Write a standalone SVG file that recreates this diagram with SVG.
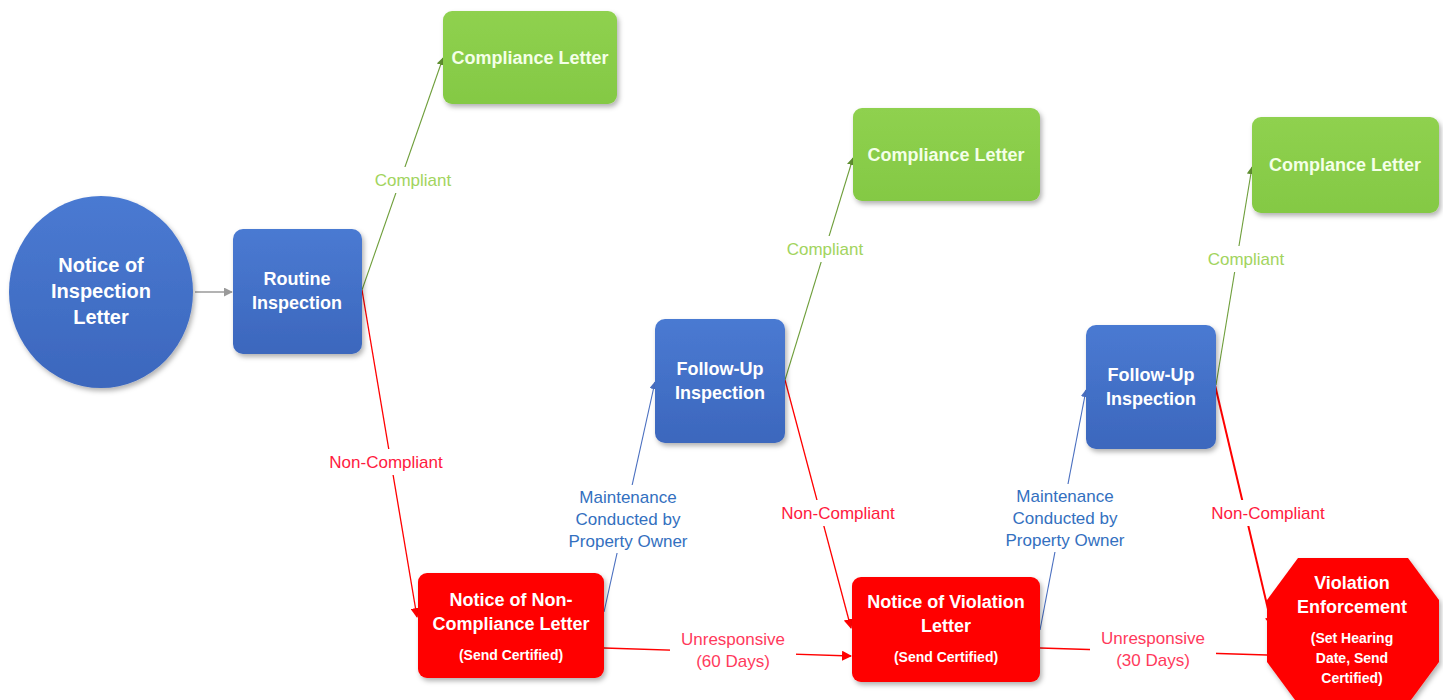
<svg xmlns="http://www.w3.org/2000/svg" width="1443" height="700" viewBox="0 0 1443 700">
<style>
.node-blue{fill:url(#gBlue);filter:url(#sh)}
.node-green{fill:url(#gGreen);filter:url(#sh)}
.node-red{fill:#ff0000;filter:url(#sh)}
.nt{font-family:"Liberation Sans",Arial,sans-serif;font-weight:bold;fill:#ffffff;text-anchor:middle}
.big{font-size:18px}
.circ{font-size:20px}
.small{font-size:14px}
.gt{fill:#f4ffe8}
.lbl{font-family:"Liberation Sans",Arial,sans-serif;font-size:17px;text-anchor:middle}
.lg{fill:#a2d45e}
.lr{fill:#ff1a40}
.lb{fill:#3370c0}
.lp{fill:#ff3a5c}
.c{fill:none}
.cg{stroke:#6e9e3a;stroke-width:1.1}
.cr{stroke:#ff0000;stroke-width:1.3}
.cb{stroke:#4a6fc0;stroke-width:1.1}
.cgr{stroke:#9a9a9a;stroke-width:1.3}
.bg{fill:#ffffff}
</style>
<defs>
<linearGradient id="gBlue" x1="0" y1="0" x2="0" y2="1">
<stop offset="0" stop-color="#4a7ad2"/>
<stop offset="1" stop-color="#3c67bd"/>
</linearGradient>
<linearGradient id="gGreen" x1="0" y1="0" x2="0" y2="1">
<stop offset="0" stop-color="#8fd14f"/>
<stop offset="1" stop-color="#84c944"/>
</linearGradient>
<filter id="sh" x="-20%" y="-20%" width="140%" height="140%">
<feDropShadow dx="2" dy="3" stdDeviation="2.5" flood-color="#000" flood-opacity="0.3"/>
</filter>
<marker id="aG" viewBox="0 0 10 10" refX="9" refY="5" markerWidth="8" markerHeight="8" markerUnits="userSpaceOnUse" orient="auto"><path d="M0,0 L10,5 L0,10 z" fill="#5f8f30"/></marker>
<marker id="aR" viewBox="0 0 10 10" refX="9" refY="5" markerWidth="10" markerHeight="10" markerUnits="userSpaceOnUse" orient="auto"><path d="M0,0 L10,5 L0,10 z" fill="#ff0000"/></marker>
<marker id="aB" viewBox="0 0 10 10" refX="9" refY="5" markerWidth="8" markerHeight="8" markerUnits="userSpaceOnUse" orient="auto"><path d="M0,0 L10,5 L0,10 z" fill="#4a6fc0"/></marker>
<marker id="aGr" viewBox="0 0 10 10" refX="9" refY="5" markerWidth="9" markerHeight="9" markerUnits="userSpaceOnUse" orient="auto"><path d="M0,0 L10,5 L0,10 z" fill="#9a9a9a"/></marker>
</defs>
<rect width="1443" height="700" fill="#ffffff"/>

<g id="connectors">
<line class="c cgr" x1="195" y1="292" x2="232" y2="292" marker-end="url(#aGr)"/>
<line class="c cg" x1="362" y1="290" x2="443" y2="58" marker-end="url(#aG)"/>
<line class="c cr" x1="362" y1="290" x2="417" y2="617" marker-end="url(#aR)"/>
<line class="c cb" x1="604" y1="612" x2="655" y2="382" marker-end="url(#aB)"/>
<line class="c cg" x1="785" y1="380" x2="853" y2="158" marker-end="url(#aG)"/>
<line class="c cr" x1="785" y1="380" x2="851" y2="628" marker-end="url(#aR)"/>
<line class="c cr" x1="604" y1="648" x2="851" y2="656" marker-end="url(#aR)"/>
<line class="c cb" x1="1040" y1="630" x2="1086" y2="390" marker-end="url(#aB)"/>
<line class="c cg" x1="1216" y1="385" x2="1252" y2="167" marker-end="url(#aG)"/>
<line class="c cr" style="stroke-width:2" x1="1215" y1="385" x2="1272" y2="626" marker-end="url(#aR)"/>
<line class="c cr" x1="1040" y1="648" x2="1267" y2="655"/>
<g id="labels">
<rect class="bg" x="368" y="167" width="90" height="26"/>
<text class="lbl lg" x="413" y="186">Compliant</text>
<rect class="bg" x="322" y="449" width="128" height="26"/>
<text class="lbl lr" x="386" y="468">Non-Compliant</text>
<rect class="bg" x="562" y="485" width="134" height="68"/>
<text class="lbl lb" x="628" y="503">Maintenance</text>
<text class="lbl lb" x="628" y="525">Conducted by</text>
<text class="lbl lb" x="628" y="547">Property Owner</text>
<rect class="bg" x="780" y="236" width="90" height="26"/>
<text class="lbl lg" x="825" y="255">Compliant</text>
<rect class="bg" x="774" y="500" width="128" height="26"/>
<text class="lbl lr" x="838" y="519">Non-Compliant</text>
<rect class="bg" x="670" y="627" width="126" height="48"/>
<text class="lbl lp" x="733" y="645">Unresponsive</text>
<text class="lbl lp" x="733" y="667">(60 Days)</text>
<rect class="bg" x="998" y="484" width="134" height="68"/>
<text class="lbl lb" x="1065" y="502">Maintenance</text>
<text class="lbl lb" x="1065" y="524">Conducted by</text>
<text class="lbl lb" x="1065" y="546">Property Owner</text>
<rect class="bg" x="1201" y="246" width="90" height="26"/>
<text class="lbl lg" x="1246" y="265">Compliant</text>
<rect class="bg" x="1204" y="500" width="128" height="26"/>
<text class="lbl lr" x="1268" y="519">Non-Compliant</text>
<rect class="bg" x="1090" y="626" width="126" height="48"/>
<text class="lbl lp" x="1153" y="644">Unresponsive</text>
<text class="lbl lp" x="1153" y="666">(30 Days)</text>
</g>
</g>

<g id="notice-of-inspection">
<ellipse cx="101" cy="292" rx="92" ry="96" fill="url(#gBlue)" filter="url(#sh)"/>
<text class="nt circ" x="101" y="272">Notice of</text>
<text class="nt circ" x="101" y="298">Inspection</text>
<text class="nt circ" x="101" y="324">Letter</text>
</g>

<g id="routine-inspection">
<rect class="node-blue" x="233" y="229" width="129" height="125" rx="10"/>
<text class="nt big" x="297" y="285">Routine</text>
<text class="nt big" x="297" y="309">Inspection</text>
</g>

<g id="compliance-letter-1">
<rect class="node-green" x="443" y="11" width="174" height="93" rx="9"/>
<text class="nt big gt" x="530" y="64">Compliance Letter</text>
</g>

<g id="non-compliance-letter">
<rect class="node-red" x="418" y="573" width="186" height="105" rx="9"/>
<text class="nt big" x="511" y="606">Notice of Non-</text>
<text class="nt big" x="511" y="630">Compliance Letter</text>
<text class="nt small" x="511" y="660">(Send Certified)</text>
</g>

<g id="follow-up-1">
<rect class="node-blue" x="655" y="319" width="130" height="124" rx="10"/>
<text class="nt big" x="720" y="375">Follow-Up</text>
<text class="nt big" x="720" y="399">Inspection</text>
</g>

<g id="compliance-letter-2">
<rect class="node-green" x="853" y="108" width="187" height="93" rx="9"/>
<text class="nt big gt" x="946" y="161">Compliance Letter</text>
</g>

<g id="violation-letter">
<rect class="node-red" x="852" y="577" width="188" height="105" rx="9"/>
<text class="nt big" x="946" y="608">Notice of Violation</text>
<text class="nt big" x="946" y="632">Letter</text>
<text class="nt small" x="946" y="662">(Send Certified)</text>
</g>

<g id="follow-up-2">
<rect class="node-blue" x="1086" y="325" width="130" height="124" rx="10"/>
<text class="nt big" x="1151" y="381">Follow-Up</text>
<text class="nt big" x="1151" y="405">Inspection</text>
</g>

<g id="compliance-letter-3">
<rect class="node-green" x="1252" y="117" width="187" height="96" rx="9"/>
<text class="nt big gt" x="1345" y="171">Complance Letter</text>
</g>

<g id="violation-enforcement">
<polygon fill="#ff0000" filter="url(#sh)" points="1298,558 1408,558 1439,600 1439,662 1408,704 1298,704 1267,662 1267,600"/>
<text class="nt big" x="1352" y="589">Violation</text>
<text class="nt big" x="1352" y="613">Enforcement</text>
<text class="nt small" x="1352" y="643">(Set Hearing</text>
<text class="nt small" x="1352" y="663">Date, Send</text>
<text class="nt small" x="1352" y="683">Certified)</text>
</g>
</svg>
